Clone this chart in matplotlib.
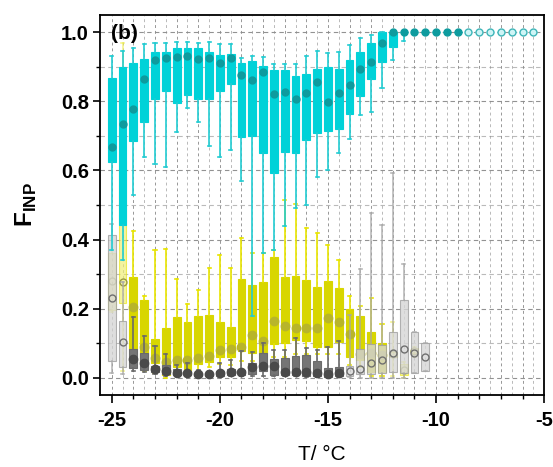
import matplotlib
matplotlib.use("Agg")
import matplotlib.pyplot as plt
import numpy as np

plt.rcParams['font.family'] = ['Liberation Sans', 'DejaVu Sans']
plt.rcParams['mathtext.fontset'] = 'custom'
plt.rcParams['mathtext.bf'] = 'Liberation Sans:bold'
plt.rcParams['mathtext.rm'] = 'Liberation Sans'

# ---- cyan series (high F_INP) ----
cyan_T = [-25, -24.5, -24, -23.5, -23, -22.5, -22, -21.5, -21, -20.5, -20, -19.5, -19, -18.5,
          -18, -17.5, -17, -16.5, -16, -15.5, -15, -14.5, -14, -13.5, -13, -12.5, -12, -11.5,
          -11, -10.5, -10, -9.5, -9, -8.5, -8, -7.5, -7, -6.5, -6, -5.5]
cyan_lo = [0.37, 0.34, 0.53, 0.64, 0.62, 0.61, 0.71, 0.78, 0.74, 0.67, 0.64, 0.66, 0.57, 0.18,
           0.36, 0.37, 0.44, 0.49, 0.50, 0.58, 0.60, 0.65, 0.69, 0.76, 0.77, 0.84, 0.92, 0.975,
           1, 1, 1, 1, 1, 1, 1, 1, 1, 1, 1, 1]
cyan_q1 = [0.624, 0.441, 0.685, 0.740, 0.807, 0.830, 0.795, 0.817, 0.806, 0.807, 0.830, 0.851,
           0.697, 0.701, 0.651, 0.593, 0.654, 0.651, 0.687, 0.709, 0.713, 0.719, 0.764, 0.815,
           0.865, 0.915, 0.956, 1, 1, 1, 1, 1, 1, 1, 1, 1, 1, 1, 1, 1]
cyan_med = [0.668, 0.733, 0.777, 0.864, 0.919, 0.925, 0.928, 0.930, 0.923, 0.926, 0.912, 0.924,
            0.877, 0.863, 0.886, 0.821, 0.826, 0.807, 0.825, 0.855, 0.797, 0.825, 0.848, 0.894,
            0.914, 0.969, 1, 1, 1, 1, 1, 1, 1, 1, 1, 1, 1, 1, 1, 1]
cyan_q3 = [0.868, 0.899, 0.912, 0.922, 0.943, 0.943, 0.955, 0.955, 0.953, 0.943, 0.933, 0.938,
           0.912, 0.917, 0.902, 0.890, 0.890, 0.873, 0.878, 0.893, 0.899, 0.893, 0.920, 0.944,
           0.970, 1, 1, 1, 1, 1, 1, 1, 1, 1, 1, 1, 1, 1, 1, 1]
cyan_hi = [0.931, 0.946, 0.953, 0.965, 0.970, 0.970, 0.972, 0.972, 0.970, 0.972, 0.967, 0.967,
           0.926, 0.930, 0.929, 0.909, 0.909, 0.907, 0.931, 0.946, 0.941, 0.944, 0.962, 0.982,
           0.992, 1, 1, 1, 1, 1, 1, 1, 1, 1, 1, 1, 1, 1, 1, 1]
cyan_light = [-8.5, -8, -7.5, -7, -6.5, -6, -5.5]

# ---- yellow series ----
yel_T = [-25, -24.5, -24, -23.5, -23, -22.5, -22, -21.5, -21, -20.5, -20, -19.5, -19, -18.5,
         -18, -17.5, -17, -16.5, -16, -15.5, -15, -14.5, -14, -13.5, -13, -12.5, -12, -11.5, -11]
yel_lo = [0.19, 0.02, 0.027, 0.02, 0.013, 0.0, 0.01, 0.01, 0.02, 0.03, 0.04, 0.037, 0.05, 0.05,
          0.04, 0.06, 0.06, 0.07, 0.07, 0.07, 0.07, 0.07, 0.037, 0.03, 0.005, 0.005, 0.005, 0.0, 0.06]
yel_q1 = [0.196, 0.216, 0.082, 0.05, 0.044, 0.008, 0.032, 0.022, 0.039, 0.046, 0.061, 0.059,
          0.078, 0.073, 0.071, 0.097, 0.100, 0.109, 0.107, 0.090, 0.090, 0.103, 0.061, 0.051,
          0.017, 0.017, 0.061, 0.008, 0.071]
yel_med = [0.28, 0.276, 0.206, 0.09, 0.058, 0.046, 0.051, 0.051, 0.058, 0.064, 0.080, 0.083,
           0.088, 0.124, 0.106, 0.164, 0.151, 0.145, 0.145, 0.145, 0.174, 0.161, 0.126, 0.069,
           0.071, 0.066, 0.069, 0.024, 0.078]
yel_q3 = [0.361, 0.627, 0.291, 0.225, 0.111, 0.145, 0.175, 0.162, 0.179, 0.181, 0.162, 0.148,
          0.286, 0.268, 0.276, 0.349, 0.291, 0.296, 0.283, 0.263, 0.281, 0.261, 0.198, 0.180,
          0.133, 0.100, 0.075, 0.039, 0.085]
yel_hi = [0.37, 0.97, 0.424, 0.238, 0.370, 0.372, 0.285, 0.213, 0.254, 0.319, 0.354, 0.317,
          0.404, 0.36, 0.361, 0.37, 0.515, 0.503, 0.433, 0.419, 0.384, 0.341, 0.237, 0.209,
          0.230, 0.155, 0.162, 0.045, 0.09]
yel_light = [-25, -24.5, -12, -11.5, -11]

# ---- gray series ----
gray_T = [-25, -24.5, -24, -23.5, -23, -22.5, -22, -21.5, -21, -20.5, -20, -19.5, -19, -18.5,
          -18, -17.5, -17, -16.5, -16, -15.5, -15, -14.5, -14, -13.5, -13, -12.5, -12, -11.5,
          -11, -10.5]
gray_lo = [0.015, 0.01, 0.02, 0.017, 0.01, 0.005, 0.005, 0.005, 0.003, 0.003, 0.003, 0.004,
           0.004, 0.004, 0.005, 0.004, 0.004, 0.004, 0.003, 0.003, 0.002, 0.002, 0.002, 0.0,
           0.0, 0.0, 0.0, 0.0, 0.015, 0.019]
gray_q1 = [0.048, 0.030, 0.027, 0.022, 0.017, 0.011, 0.008, 0.008, 0.006, 0.006, 0.005, 0.008,
           0.008, 0.010, 0.020, 0.008, 0.008, 0.008, 0.006, 0.005, 0.003, 0.005, 0.005, 0.010,
           0.010, 0.013, 0.017, 0.015, 0.015, 0.019]
gray_med = [0.23, 0.103, 0.054, 0.042, 0.025, 0.020, 0.015, 0.015, 0.011, 0.011, 0.013, 0.016,
            0.016, 0.030, 0.034, 0.034, 0.017, 0.017, 0.016, 0.015, 0.011, 0.015, 0.019, 0.025,
            0.044, 0.051, 0.071, 0.082, 0.073, 0.061]
gray_q3 = [0.414, 0.164, 0.082, 0.071, 0.034, 0.037, 0.025, 0.020, 0.015, 0.015, 0.019, 0.025,
           0.024, 0.044, 0.071, 0.053, 0.058, 0.064, 0.065, 0.049, 0.027, 0.032, 0.035, 0.082,
           0.098, 0.095, 0.132, 0.225, 0.133, 0.100]
gray_hi = [0.445, 0.276, 0.177, 0.122, 0.092, 0.068, 0.037, 0.042, 0.022, 0.020, 0.042, 0.051,
           0.077, 0.075, 0.100, 0.080, 0.080, 0.116, 0.087, 0.080, 0.090, 0.107, 0.182, 0.315,
           0.477, 0.443, 0.593, 0.329, 0.133, 0.100]
gray_light = [-25, -24.5, -14, -13.5, -13, -12.5, -12, -11.5, -11, -10.5]

x_ticks = [-25, -20, -15, -10, -5]
y_ticks = [0.0, 0.2, 0.4, 0.6, 0.8, 1.0]


def draw_series(ax, T, lo, q1, med, q3, hi, light, style, z):
    for is_light in (False, True):
        idx = [i for i, t in enumerate(T) if (t in light) == is_light]
        if not idx:
            continue
        st = style['light'] if is_light else style['normal']
        stats = [dict(whislo=lo[i], q1=q1[i], med=med[i], q3=q3[i], whishi=hi[i]) for i in idx]
        pos = [T[i] for i in idx]
        ax.bxp(stats, positions=pos, widths=0.36, capwidths=0.14, patch_artist=True,
               showfliers=False, manage_ticks=False, zorder=z,
               boxprops=dict(facecolor=st['face'], edgecolor=st['edge'], linewidth=0.8,
                             alpha=st['alpha']),
               whiskerprops=dict(color=st['whisk'], linewidth=1.2, alpha=st['alpha']),
               capprops=dict(color=st['whisk'], linewidth=1.2, alpha=st['alpha']),
               medianprops=dict(linewidth=0))
        ax.plot(pos, [med[i] for i in idx], 'o', ms=st['ms'], mfc=st['mfc'], mec=st['mec'],
                mew=1.0, zorder=z + 0.5, linestyle='none')


cyan_style = {
    'normal': dict(face='#00D2D8', edge='#00D2D8', whisk='#22CCD2', alpha=1.0,
                   mfc='#0E9B9E', mec='#0E9B9E', ms=5),
    'light': dict(face='#7FE6EA', edge='#7FE6EA', whisk='#7FE6EA', alpha=0.9,
                  mfc='#CFF5F6', mec='#3FB5B8', ms=5),
}
yel_style = {
    'normal': dict(face='#D8D600', edge='#D8D600', whisk='#E8E400', alpha=1.0,
                   mfc='#B8B52A', mec='#B8B52A', ms=6),
    'light': dict(face='#EEEC60', edge='#E8E400', whisk='#EEEC40', alpha=0.6,
                  mfc='none', mec='#9A9A40', ms=5),
}
gray_style = {
    'normal': dict(face='#757575', edge='#6A6A6A', whisk='#6A6A6A', alpha=1.0,
                   mfc='#4A4A4A', mec='#4A4A4A', ms=6),
    'light': dict(face='#D6D6D6', edge='#A0A0A0', whisk='#A8A8A8', alpha=0.8,
                  mfc='none', mec='#707070', ms=5),
}

fig = plt.figure(figsize=(5.53, 4.67), dpi=100)
ax = fig.add_axes([0.181, 0.154, 0.803, 0.814])

draw_series(ax, yel_T, yel_lo, yel_q1, yel_med, yel_q3, yel_hi, yel_light, yel_style, 2)
draw_series(ax, gray_T, gray_lo, gray_q1, gray_med, gray_q3, gray_hi, gray_light, gray_style, 3)
draw_series(ax, cyan_T, cyan_lo, cyan_q1, cyan_med, cyan_q3, cyan_hi, cyan_light, cyan_style, 4)

ax.set_xlim(-25.54, -5)
ax.set_ylim(-0.05, 1.05)

ax.set_xticks(x_ticks)
ax.set_xticklabels([str(t) for t in x_ticks])
ax.set_xticks(np.arange(-25, -4.9, 1.0), minor=True)
ax.set_yticks(y_ticks)
ax.set_yticklabels(['%.1f' % t for t in y_ticks])
ax.set_yticks(np.arange(0.1, 1.0, 0.2), minor=True)

# dashed grid
for x in np.arange(-25, -5.01, 0.5):
    ax.axvline(x, color='#8C8C8C', lw=0.7, ls=(0, (3, 3)), zorder=0.5,
               alpha=0.9 if float(x).is_integer() else 0.6)
for y in np.arange(0, 1.01, 0.1):
    ax.axhline(y, color='#8C8C8C', lw=0.8, ls=(0, (4, 3)), zorder=0.5,
               alpha=0.95 if round(y * 10) % 2 == 0 else 0.6)

ax.tick_params(axis='x', which='major', direction='out', length=5.5, width=1.2, pad=6)
ax.tick_params(axis='y', which='major', direction='out', length=5, width=1.2, pad=3)
ax.tick_params(which='minor', direction='out', length=3, width=1.0)
ax.tick_params(which='both', top=False, right=False, labelsize=14.5)
for lab in ax.get_xticklabels() + ax.get_yticklabels():
    lab.set_fontweight('bold')

for sp in ax.spines.values():
    sp.set_linewidth(1.3)

ax.set_xlabel('T/ °C', fontsize=15, labelpad=11)
ax.set_ylabel(r'$\mathbf{F}_{\mathbf{INP}}$', fontsize=17.5, labelpad=16)
ax.text(0.025, 0.975, '(b)', transform=ax.transAxes, fontsize=15, fontweight='bold',
        va='top', ha='left', zorder=6)

fig.savefig('out.png', dpi=100)
